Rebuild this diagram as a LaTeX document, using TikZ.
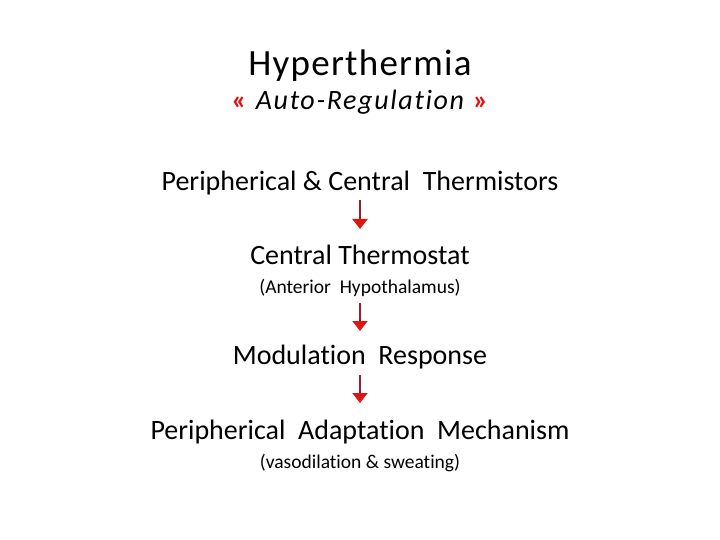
\documentclass[tikz,border=0pt]{standalone}
\usepackage{fontspec}
\setmainfont{Carlito}[Ligatures=NoCommon]
\usetikzlibrary{arrows.meta}
\definecolor{arrred}{RGB}{225,20,20}
\definecolor{shaftred}{RGB}{150,30,45}
\tikzset{
  big/.style={font=\fontsize{28}{32}\selectfont, inner sep=0pt, anchor=base},
  small/.style={font=\fontsize{19.5}{23}\selectfont, inner sep=0pt, anchor=base},
  flow/.style={draw=shaftred, line width=2pt, -{Triangle[length=10pt,width=15pt,color=arrred]}},
}
\newcommand{\gq}[1]{\textcolor{arrred}{\bfseries #1}}
\begin{document}
\begin{tikzpicture}[x=1pt,y=-1pt]
\useasboundingbox (0,0) rectangle (720,540);
\node[font=\fontsize{37}{42}\selectfont\addfontfeatures{LetterSpace=3.4}, inner sep=0pt, anchor=base] (title) at (360,76) {Hyperthermia};
\node[big] (sub) at (360,110) {\gq{«}\hspace{9pt}{\itshape\addfontfeatures{LetterSpace=6}Auto-Regulation}\hspace{9pt}\gq{»}};
\node[big] (a) at (360,191) {Peripherical \& Central\ \ Thermistors};
\node[big] (b) at (360,264) {Central Thermostat};
\node[small] (b2) at (360,293) {(Anterior\ \ Hypothalamus)};
\node[big] (c) at (360,364) {Modulation\ \ Response};
\node[big] (d) at (360,439) {Peripherical\ \ Adaptation\ \ Mechanism};
\node[small] (d2) at (360,468) {(vasodilation \& sweating)};
\coordinate (a1) at (360,200); \coordinate (a2) at (360,229);
\coordinate (b1) at (360,303); \coordinate (b2e) at (360,331);
\coordinate (c1) at (360,375); \coordinate (c2) at (360,403);
\draw[flow] (a1) -- (a2);
\draw[flow] (b1) -- (b2e);
\draw[flow] (c1) -- (c2);
\end{tikzpicture}
\end{document}
